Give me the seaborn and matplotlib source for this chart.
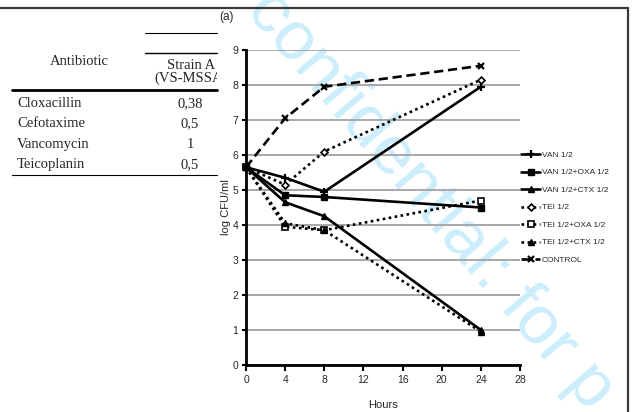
import matplotlib
matplotlib.use("Agg")
import matplotlib.pyplot as plt
import seaborn as sns
from matplotlib.lines import Line2D
from matplotlib.transforms import Bbox, TransformedBbox

# ---------------- data ----------------
hours = [0, 4, 8, 24]
van = [5.65, 5.35, 4.95, 7.95]
van_oxa = [5.65, 4.85, 4.8, 4.5]
van_ctx = [5.65, 4.65, 4.25, 1.0]
tei = [5.65, 5.15, 6.1, 8.15]
tei_oxa = [5.65, 3.95, 3.85, 4.7]
tei_ctx = [5.65, 4.05, 3.85, 0.95]
control = [5.65, 7.05, 7.95, 8.55]

series_names = ["VAN 1/2", "VAN 1/2+OXA 1/2", "VAN 1/2+CTX 1/2", "TEI 1/2",
                "TEI 1/2+OXA 1/2", "TEI 1/2+CTX 1/2", "CONTROL"]
series_values = [van, van_oxa, van_ctx, tei, tei_oxa, tei_ctx, control]

x_ticks = [0, 4, 8, 12, 16, 20, 24, 28]
y_ticks = [0, 1, 2, 3, 4, 5, 6, 7, 8, 9]

antibiotics = ["Cloxacillin", "Cefotaxime", "Vancomycin", "Teicoplanin"]
strain_a_mic = ["0,38", "0,5", "1", "0,5"]

# ---------------- style ----------------
sns.set_style("white")
SANS = ['Liberation Sans', 'DejaVu Sans']
plt.rcParams['font.family'] = SANS

W, H = 632, 412
fig = plt.figure(figsize=(W / 100, H / 100), dpi=100)
fig.patch.set_facecolor('white')


def fx(px):
    return px / W


def fy(py):
    return 1 - py / H


# watermark (behind the chart)
fig.text(fx(430), fy(200), "confidential: for p", fontsize=50,
         family=SANS, color='#cbedfc',
         rotation=-49.4, rotation_mode='anchor', ha='center', va='center',
         zorder=-1)

# page border
fig.add_artist(Line2D([0, fx(628)], [fy(8), fy(8)], transform=fig.transFigure,
                      color='#3a3a3a', lw=1.6))
fig.add_artist(Line2D([fx(628), fx(628)], [fy(8), 0], transform=fig.transFigure,
                      color='#3a3a3a', lw=1.6))

# ---------------- table ----------------
for (x0, x1, y, lw) in [(145, 217, 33, 0.8), (145, 217, 53, 1.0),
                        (12, 217, 90, 2.0), (12, 217, 175, 0.8)]:
    fig.add_artist(Line2D([fx(x0), fx(x1)], [fy(y), fy(y)],
                          transform=fig.transFigure, color='black', lw=lw))

SERIF = ['Liberation Serif', 'DejaVu Serif']
clipbox = TransformedBbox(Bbox([[0, 0], [fx(217), 1]]), fig.transFigure)
fig.text(fx(79), fy(65), "Antibiotic", family=SERIF, fontsize=10.5,
         ha='center', va='baseline')
t1 = fig.text(fx(167), fy(69), "Strain A", family=SERIF, fontsize=10.5,
              ha='left', va='baseline')
t2 = fig.text(fx(154), fy(82), "(VS-MSSA", family=SERIF, fontsize=10.5,
              ha='left', va='baseline')
for t in (t1, t2):
    t.set_clip_box(clipbox)
    t.set_clip_on(True)

row_base = [107, 127.5, 148, 168]
for name, val, yb in zip(antibiotics, strain_a_mic, row_base):
    fig.text(fx(17), fy(yb), name, family=SERIF, fontsize=10.5,
             ha='left', va='baseline')
    fig.text(fx(190), fy(yb), val, family=SERIF, fontsize=10.5,
             ha='center', va='baseline')

fig.text(fx(226), fy(17), "(a)", fontsize=8.5, ha='center', va='center')

# ---------------- chart ----------------
ax = fig.add_axes([fx(246), fy(365), (520 - 246) / W, (365 - 50) / H])
ax.set_facecolor('none')

DOT = (0, (1, 1.3))
DASH = (0, (3.5, 1.8))
styles = {
    "VAN 1/2": dict(linestyle='-', marker='+', markersize=6, markeredgewidth=1.6,
                    markerfacecolor='black'),
    "VAN 1/2+OXA 1/2": dict(linestyle='-', marker='s', markersize=4,
                            markerfacecolor='black', markeredgewidth=1),
    "VAN 1/2+CTX 1/2": dict(linestyle='-', marker='^', markersize=4.5,
                            markerfacecolor='black', markeredgewidth=1),
    "TEI 1/2": dict(linestyle=DOT, marker='D', markersize=3.5,
                    markerfacecolor='white', markeredgewidth=1.2),
    "TEI 1/2+OXA 1/2": dict(linestyle=DOT, marker='s', markersize=4,
                            markerfacecolor='white', markeredgewidth=1.2),
    "TEI 1/2+CTX 1/2": dict(linestyle=DOT, marker='^', markersize=4.5,
                            markerfacecolor='black', markeredgewidth=1),
    "CONTROL": dict(linestyle=DASH, marker='x', markersize=5, markeredgewidth=1.6),
}

for name, vals in zip(series_names, series_values):
    sns.lineplot(x=hours, y=vals, ax=ax, color='black', lw=1.9,
                 markeredgecolor='black', label=name, clip_on=False,
                 zorder=3, **styles[name])

ax.set_xlim(0, 28)
ax.set_ylim(0, 9)
ax.set_xticks(x_ticks)
ax.set_yticks(y_ticks)
ax.yaxis.grid(True, color='#a8a8a8', lw=1.4)
ax.xaxis.grid(False)
ax.set_axisbelow(True)
for s in ('top', 'right'):
    ax.spines[s].set_visible(False)
for s in ('left', 'bottom'):
    ax.spines[s].set_color('black')
    ax.spines[s].set_linewidth(2)
ax.tick_params(axis='x', direction='out', length=4, width=1.5, color='black',
               labelsize=7.5, pad=3, bottom=True)
ax.tick_params(axis='y', direction='out', length=3, width=1.5, color='black',
               labelsize=7.5, pad=2.5, left=True)
ax.set_xlabel("Hours", fontsize=8, labelpad=11)
ax.set_ylabel("log CFU/ml", fontsize=8, labelpad=1)

handles, labels = ax.get_legend_handles_labels()
ax.legend(handles, labels, loc='upper left', bbox_to_anchor=(1.005, 0.679),
          frameon=False, fontsize=6, handlelength=2.2, handletextpad=0.25,
          labelspacing=1.16, borderpad=0, borderaxespad=0)

fig.savefig("out.png", dpi=100)
